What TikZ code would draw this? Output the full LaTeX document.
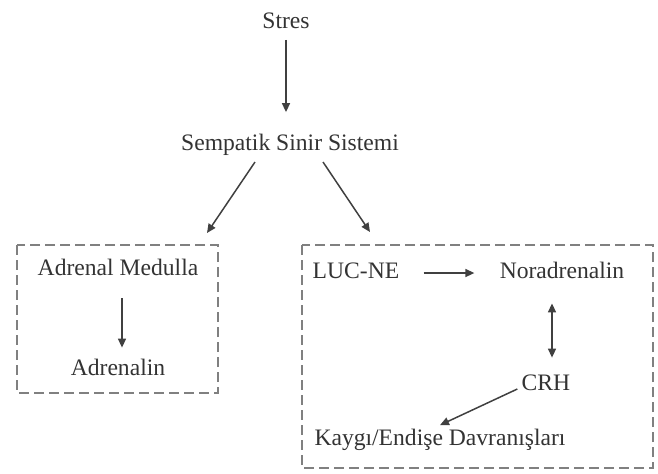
\documentclass[tikz,border=0pt]{standalone}
\usepackage{fontspec}
\setmainfont{Liberation Serif}
\usetikzlibrary{arrows.meta}
\colorlet{txtc}{black!80}
\colorlet{arrc}{black!75}
\colorlet{boxc}{black!50}
\tikzset{pxp/.style={
  x=0.5pt,
  y=-0.5pt
}}
\tikzset{lbl/.style={
  font=\fontsize{11.8}{14}\selectfont,
  text=txtc,
  inner sep=2pt,
  text height=8pt,
  text depth=2.5pt
}}
\tikzset{arr/.style={
  draw=arrc,
  line width=0.75pt,
  -{Triangle[length=4.5pt,width=4pt]}
}}
\tikzset{darr/.style={arr,{Triangle[length=4.5pt,width=4pt]}-{Triangle[length=4.5pt,width=4pt]}}}
\tikzset{dbox/.style={
  draw=boxc,
  line width=1pt,
  dash pattern=on 5pt off 2.5pt
}}

\begin{document}
\begin{tikzpicture}[pxp]
    \useasboundingbox (0,0) rectangle (658,473);

    % Top chain
    \node[lbl] (stres) at (286,23) {Stres};
    \node[lbl] (sss) at (290,145) {Sempatik Sinir Sistemi};
    \draw[arr,shorten <=1pt,shorten >=9pt] (stres.south) -- (stres.south |- sss.north);
    \coordinate (lstart) at (255,162);
    \coordinate (lend) at (207,233);
    \coordinate (rstart) at (323,162);
    \coordinate (rend) at (370,232);
    \draw[arr] (lstart) -- (lend);
    \draw[arr] (rstart) -- (rend);

    % Left box
    \draw[dbox] (17,245) rectangle (218,393);
    \node[lbl] (med) at (118,270) {Adrenal Medulla};
    \node[lbl] (adr) at (118,370) {Adrenalin};
    \draw[arr,shorten <=6.75pt,shorten >=3.75pt]
      ([xshift=2pt]med.south) -- ([xshift=2pt]adr.north);

    % Right box
    \draw[dbox] (302,245) rectangle (653,468);
    \node[lbl] (luc) at (356,273) {LUC-NE};
    \node[lbl] (nor) at (562,273) {Noradrenalin};
    \node[lbl] (crh) at (546,385) {CRH};
    \node[lbl] (kay) at (440,440) {Kaygı/Endişe Davranışları};
    \draw[arr,shorten <=10pt,shorten >=10.5pt] (luc.east) -- (nor.west);
    \draw[darr,shorten <=7.75pt,shorten >=6.25pt]
      ([xshift=-5pt]nor.south) -- ([xshift=3pt]crh.north);
    \draw[arr] ([yshift=-2pt]crh.west) -- (kay.north);

  \end{tikzpicture}
\end{document}
